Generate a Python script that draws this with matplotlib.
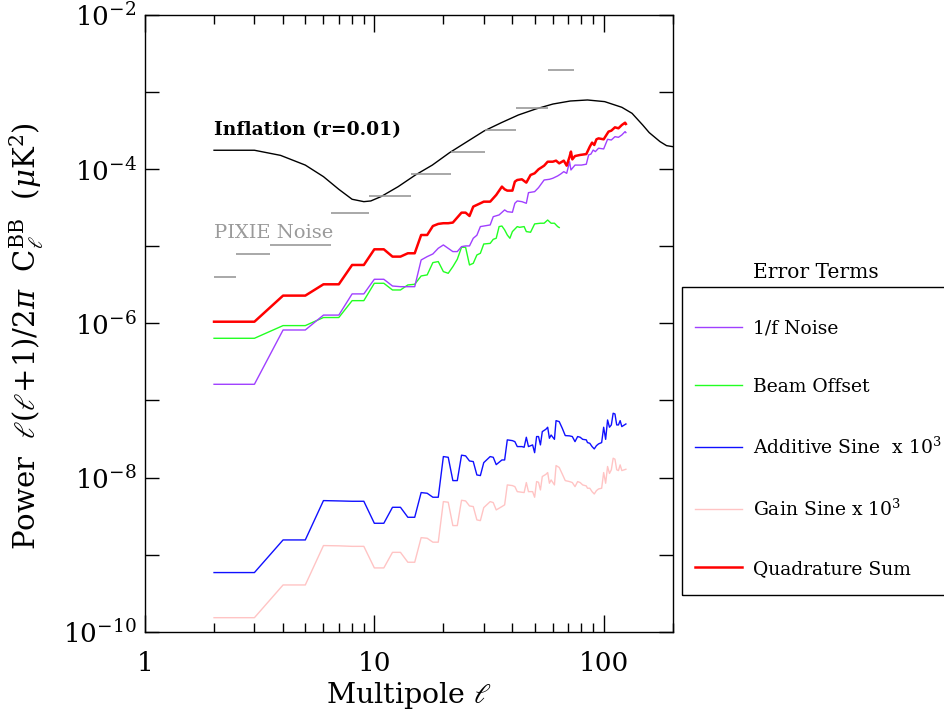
import matplotlib
matplotlib.use("Agg")
import matplotlib.pyplot as plt
from matplotlib.ticker import FixedLocator, FuncFormatter, NullFormatter, LogLocator
from matplotlib.patches import Rectangle
import numpy as np

# ---- Inflationary B-mode spectrum (r = 0.01) ----
ell_inf = [2, 3, 3.9, 5, 6, 7, 8, 9, 9.65, 10.7, 12.7, 15.1, 17.9, 21.3, 25.4, 30.1,
           35.8, 42.5, 50.6, 60.1, 71.5, 85, 101, 120, 133, 148, 158, 176, 188, 200]
cl_inf = [1.76e-4, 1.76e-4, 1.51e-4, 1.13e-4, 8.0e-5, 5.48e-5, 4.07e-5, 3.79e-5,
          3.87e-5, 4.41e-5, 5.93e-5, 8.4e-5, 1.13e-4, 1.64e-4, 2.28e-4, 3.13e-4,
          4.01e-4, 5.05e-4, 6.04e-4, 7.0e-4, 7.66e-4, 7.9e-4, 7.52e-4, 6.35e-4, 5.30e-4,
          3.74e-4, 2.98e-4, 2.28e-4, 2.02e-4, 1.96e-4]

# ---- PIXIE noise per multipole bin ----
pixie_lo = [2, 2.5, 3.5, 6.5, 9.5, 14.5, 21.5, 30.5, 41.5, 57]
pixie_hi = [2.5, 3.5, 6.5, 9.5, 14.5, 21.5, 30.5, 41.5, 57, 74]
pixie_noise = [4.04e-6, 7.94e-6, 1.04e-5, 2.68e-5, 4.49e-5, 8.67e-5, 1.67e-4,
               3.23e-4, 6.16e-4, 1.94e-3]

# ---- Quadrature sum of error terms ----
ell_quad = [2, 3, 4, 5, 6, 7, 8, 9, 10, 11, 12, 13, 14, 15, 16, 17, 18, 19, 20, 21,
            22, 24, 25, 26, 27, 29, 30, 32, 34, 36, 37, 38, 40, 41, 42, 44, 46, 48, 50, 52,
            55, 57, 60, 62, 64, 67, 69, 71, 72, 73, 75, 79, 84, 87, 89, 91, 93, 95, 100, 105,
            108, 112, 116, 120, 124, 125]
cl_quad = [1.05e-6, 1.05e-6, 2.29e-6, 2.29e-6, 3.21e-6, 3.21e-6, 5.72e-6, 5.72e-6, 9.13e-6, 9.13e-6,
           7.34e-6, 7.34e-6, 8.11e-6, 8.11e-6, 1.40e-5, 1.40e-5, 1.83e-5, 1.95e-5, 1.99e-5, 1.99e-5,
           2.03e-5, 2.73e-5, 2.73e-5, 2.47e-5, 3.27e-5, 3.61e-5, 3.79e-5, 3.79e-5, 4.63e-5, 5.94e-5,
           5.48e-5, 5.27e-5, 5.27e-5, 6.89e-5, 7.24e-5, 7.39e-5, 6.69e-5, 8.41e-5, 8.84e-5, 9.96e-5,
           1.11e-4, 1.25e-4, 1.25e-4, 1.29e-4, 1.19e-4, 1.29e-4, 1.11e-4, 1.45e-4, 1.69e-4, 1.34e-4,
           1.48e-4, 1.53e-4, 1.57e-4, 1.96e-4, 2.21e-4, 2.06e-4, 2.44e-4, 2.51e-4, 2.44e-4, 3.07e-4,
           3.16e-4, 3.49e-4, 3.39e-4, 3.74e-4, 4.01e-4, 3.86e-4]

# ---- 1/f noise ----
ell_1f = [2, 3, 4, 5, 6, 7, 8, 9, 10, 11, 12, 13, 14, 15, 16, 17, 18, 19, 20, 22,
          23, 24, 25, 26, 27, 28, 29, 30, 32, 33, 35, 37, 38, 40, 41, 42, 44, 46, 47, 50,
          52, 55, 58, 60, 63, 65, 67, 69, 71, 72, 75, 80, 84, 86, 88, 90, 92, 95, 100, 104,
          108, 112, 116, 120, 124, 125]
cl_1f = [1.62e-7, 1.62e-7, 8.2e-7, 8.2e-7, 1.28e-6, 1.28e-6, 2.41e-6, 2.41e-6, 3.73e-6, 3.73e-6,
         3.05e-6, 2.99e-6, 2.99e-6, 2.99e-6, 6.64e-6, 7.34e-6, 7.95e-6, 9.42e-6, 1.04e-5, 8.53e-6,
         8.53e-6, 9.89e-6, 1.01e-5, 1.01e-5, 1.27e-5, 1.39e-5, 1.80e-5, 1.83e-5, 1.89e-5, 2.42e-5,
         2.55e-5, 2.96e-5, 2.81e-5, 2.76e-5, 3.61e-5, 3.87e-5, 3.79e-5, 3.61e-5, 4.96e-5, 5.11e-5,
         5.76e-5, 7.24e-5, 7.39e-5, 7.62e-5, 8.17e-5, 8.67e-5, 9.29e-5, 8.84e-5, 1.25e-4, 9.77e-5,
         1.13e-4, 1.13e-4, 1.16e-4, 1.53e-4, 1.57e-4, 1.77e-4, 1.69e-4, 1.87e-4, 1.83e-4, 2.44e-4,
         2.39e-4, 2.64e-4, 2.59e-4, 2.78e-4, 3.07e-4, 2.98e-4]

# ---- Beam offset ----
ell_beam = [2, 3, 4, 5, 6, 7, 8, 9, 10, 11, 12, 13, 14, 15, 16, 17, 18, 19, 20, 21,
            22, 23, 24, 25, 26, 27, 28, 29, 30, 32, 33, 34, 35, 36, 37, 38, 39, 40, 42, 43,
            45, 46, 48, 50, 53, 55, 57, 59, 61, 63, 64]
cl_beam = [6.40e-7, 6.40e-7, 9.35e-7, 9.35e-7, 1.19e-6, 1.19e-6, 1.97e-6, 1.97e-6, 3.31e-6, 3.31e-6,
           2.71e-6, 2.71e-6, 3.15e-6, 3.21e-6, 4.12e-6, 4.25e-6, 6.14e-6, 6.33e-6, 4.69e-6, 4.46e-6,
           5.44e-6, 6.78e-6, 9.70e-6, 9.70e-6, 5.72e-6, 6.01e-6, 7.71e-6, 8.11e-6, 1.07e-5, 1.09e-5,
           1.23e-5, 1.27e-5, 1.80e-5, 1.83e-5, 1.63e-5, 1.40e-5, 1.27e-5, 1.55e-5, 1.80e-5, 1.76e-5,
           1.80e-5, 1.55e-5, 1.52e-5, 1.95e-5, 1.99e-5, 1.99e-5, 2.19e-5, 1.99e-5, 1.99e-5, 1.80e-5,
           1.75e-5]

# ---- Additive and gain sine terms (both scaled by 10^3) ----
ell_sine = [2, 3, 4, 5, 6, 7, 8, 9, 10, 11, 12, 13, 14, 15, 16, 17, 18, 19, 20, 21,
            22, 23, 24, 25, 26, 27, 28, 29, 30, 32, 33, 34, 36, 37, 38, 40, 41, 42, 44, 45,
            46, 47, 49, 50, 51, 52, 53, 54, 56, 57, 58, 59, 61, 62, 64, 66, 68, 71, 73, 75,
            77, 79, 81, 84, 85, 87, 89, 91, 93, 95, 98, 100, 102, 104, 106, 108, 110, 112, 114, 116,
            118, 120, 125]
cl_additive = [5.85e-10, 5.85e-10, 1.55e-9, 1.55e-9, 5.02e-9, 4.97e-9, 4.92e-9, 4.92e-9, 2.55e-9, 2.55e-9,
               4.11e-9, 4.11e-9, 3.05e-9, 3.05e-9, 6.38e-9, 6.25e-9, 5.55e-9, 5.55e-9, 1.87e-8, 1.83e-8,
               9.12e-9, 9.12e-9, 1.95e-8, 1.91e-8, 1.64e-8, 1.61e-8, 1.08e-8, 1.06e-8, 1.56e-8, 1.87e-8,
               1.83e-8, 1.47e-8, 1.69e-8, 1.69e-8, 3.08e-8, 3.01e-8, 2.92e-8, 2.52e-8, 2.52e-8, 2.47e-8,
               3.33e-8, 2.52e-8, 2.65e-8, 2.10e-8, 3.40e-8, 3.40e-8, 2.65e-8, 3.94e-8, 4.23e-8, 4.49e-8,
               3.23e-8, 3.56e-8, 3.13e-8, 5.47e-8, 5.31e-8, 4.35e-8, 3.50e-8, 3.47e-8, 3.40e-8, 2.92e-8,
               3.40e-8, 3.33e-8, 3.13e-8, 3.08e-8, 2.84e-8, 2.78e-8, 2.52e-8, 2.35e-8, 2.59e-8, 2.73e-8,
               2.84e-8, 4.49e-8, 3.13e-8, 5.58e-8, 4.49e-8, 4.81e-8, 6.82e-8, 6.68e-8, 4.81e-8, 4.81e-8,
               5.47e-8, 4.58e-8, 4.95e-8]
cl_gain = [1.52e-10, 1.52e-10, 4.04e-10, 4.04e-10, 1.31e-9, 1.30e-9, 1.28e-9, 1.28e-9, 6.72e-10, 6.72e-10,
           1.07e-9, 1.07e-9, 7.96e-10, 7.96e-10, 1.66e-9, 1.63e-9, 1.45e-9, 1.45e-9, 4.87e-9, 4.78e-9,
           2.38e-9, 2.38e-9, 5.07e-9, 4.97e-9, 4.28e-9, 4.20e-9, 2.82e-9, 2.76e-9, 4.07e-9, 4.87e-9,
           4.73e-9, 3.80e-9, 4.20e-9, 4.42e-9, 8.02e-9, 7.86e-9, 7.62e-9, 6.56e-9, 6.44e-9, 6.38e-9,
           8.60e-9, 6.56e-9, 6.56e-9, 5.55e-9, 8.86e-9, 8.68e-9, 6.90e-9, 1.03e-8, 1.10e-8, 1.16e-8,
           8.43e-9, 9.31e-9, 8.02e-9, 1.43e-8, 1.35e-8, 1.11e-8, 9.12e-9, 8.86e-9, 8.60e-9, 7.62e-9,
           8.86e-9, 8.60e-9, 8.02e-9, 7.78e-9, 7.26e-9, 7.26e-9, 6.56e-9, 6.12e-9, 6.76e-9, 7.11e-9,
           7.26e-9, 1.16e-8, 8.43e-9, 1.39e-8, 1.13e-8, 1.26e-8, 1.78e-8, 1.73e-8, 1.26e-8, 1.23e-8,
           1.46e-8, 1.23e-8, 1.28e-8]

plt.rcParams['font.family'] = ['DejaVu Serif']
plt.rcParams['mathtext.fontset'] = 'dejavuserif'

W, H = 945, 713
fig = plt.figure(figsize=(W / 100, H / 100), dpi=100)
ax = fig.add_axes([145 / W, 1 - 631.7 / H, (672.7 - 145) / W, (631.7 - 15) / H])
ax.set_xscale('log')
ax.set_yscale('log')
ax.set_xlim(1, 200)
ax.set_ylim(1e-10, 1e-2)

ax.plot(ell_inf, cl_inf, color='black', lw=1.0)
ax.hlines(pixie_noise, pixie_lo, pixie_hi, color='#9a9a9a', lw=1.2)

l_gain, = ax.plot(ell_sine, cl_gain, color='#ffc4c4', lw=1.0, label='Gain Sine x 10$^3$')
l_add, = ax.plot(ell_sine, cl_additive, color='#1010ff', lw=1.0, label='Additive Sine  x 10$^3$')
l_beam, = ax.plot(ell_beam, cl_beam, color='#22ff22', lw=1.0, label='Beam Offset')
l_1f, = ax.plot(ell_1f, cl_1f, color='#a040ff', lw=1.0, label='1/f Noise')
l_quad, = ax.plot(ell_quad, cl_quad, color='#ff0000', lw=1.8, label='Quadrature Sum')

ax.text(2.0, 3.2e-4, 'Inflation (r=0.01)', fontsize=13.5, fontweight='bold',
        va='center', ha='left', color='black')
ax.text(2.0, 1.49e-5, 'PIXIE Noise', fontsize=14, va='center', ha='left', color='#9a9a9a')

# axes decoration
ax.xaxis.set_major_locator(FixedLocator([1, 10, 100]))
ax.xaxis.set_minor_locator(LogLocator(base=10, subs=np.arange(2, 10)))
ax.xaxis.set_major_formatter(FuncFormatter(lambda v, p: f'{v:g}'))
ax.xaxis.set_minor_formatter(NullFormatter())
ax.yaxis.set_major_locator(FixedLocator([10.0 ** k for k in range(-10, -1)]))
ax.yaxis.set_minor_locator(FixedLocator([]))


def ylab(v, p):
    k = int(round(np.log10(v)))
    return f'10$^{{{k}}}$' if k % 2 == 0 else ''


ax.yaxis.set_major_formatter(FuncFormatter(ylab))
ax.tick_params(which='both', direction='in', top=True, right=True, width=1.0, labelsize=19)
ax.tick_params(axis='x', which='major', length=12.5, pad=14)
ax.tick_params(axis='x', which='minor', length=6.5)
ax.tick_params(axis='y', which='major', length=10, pad=6)
for s in ax.spines.values():
    s.set_linewidth(1.0)

ax.set_xlabel(r'Multipole $\ell$', fontsize=20.5, labelpad=3)
ax.set_ylabel(r'Power  $\ell(\ell\!+\!1)/2\pi$  C$_\ell^{\rm BB}$  ($\mu$K$^2$)', fontsize=21)
ax.yaxis.set_label_coords(-0.188, 0.48)

# legend of error terms
fig.text(816 / W, 1 - 272 / H, 'Error Terms', fontsize=14.5, ha='center', va='center')
leg = fig.legend(handles=[l_1f, l_beam, l_add, l_gain, l_quad],
                 loc='upper left', bbox_to_anchor=(695 / W, 1 - 319.5 / H), frameon=False,
                 fontsize=13.5, handlelength=2.5, handletextpad=0.6,
                 labelspacing=2.16, borderpad=0.0, borderaxespad=0.0)
fig.add_artist(Rectangle((682 / W, 1 - 595 / H), 0.4, (595 - 286.7) / H,
                         transform=fig.transFigure, fill=False, edgecolor='black', lw=1.0))

fig.savefig('out.png', dpi=100)
